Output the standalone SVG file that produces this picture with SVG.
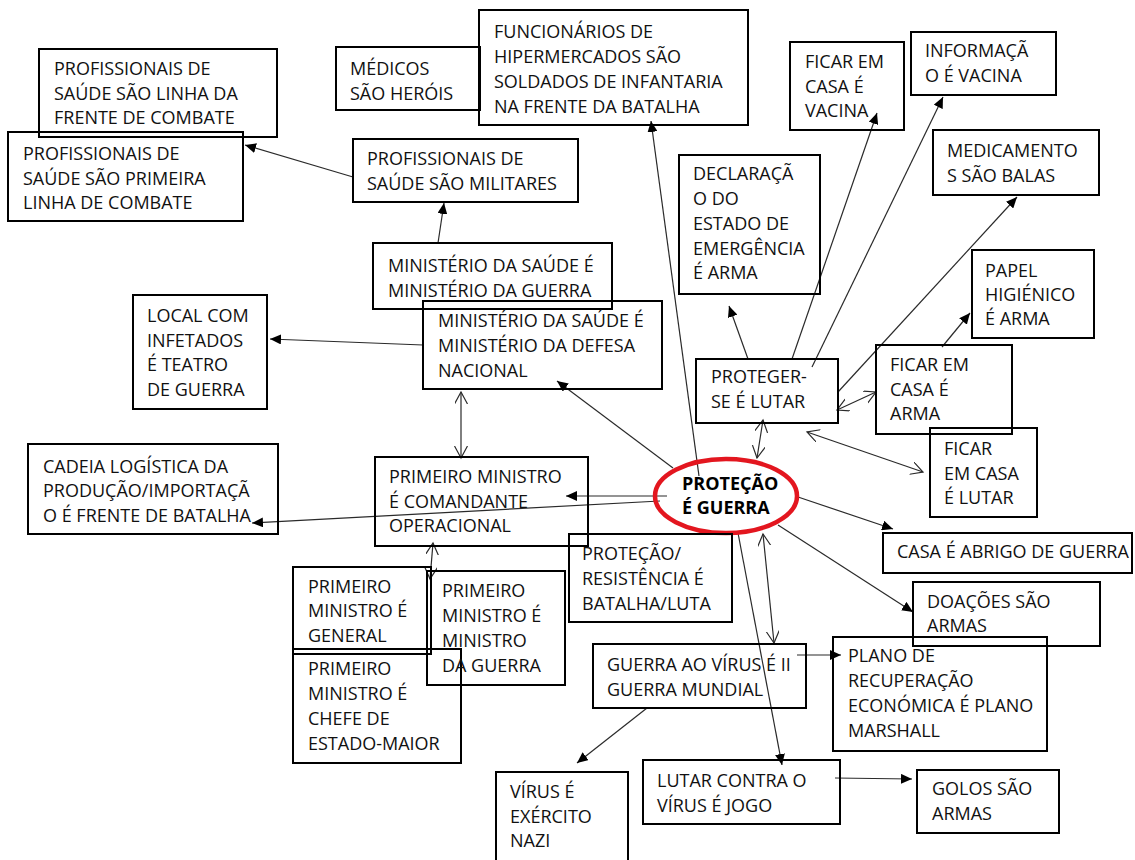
<svg xmlns="http://www.w3.org/2000/svg" width="1135" height="860" viewBox="0 0 1135 860">
  <style>
    .box { fill: none; stroke: #000; stroke-width: 2; }
    .t { font-family: "Open Sans", "Liberation Sans", sans-serif; font-size: 18px; fill: #111; }
    .tb { font-family: "Open Sans", "Liberation Sans", sans-serif; font-size: 18px; font-weight: bold; fill: #000; }
    .c { fill: none; stroke: #2a2a2a; stroke-width: 1.2; }
    .arr { marker-end: url(#head); }
    .both { marker-start: url(#open); marker-end: url(#open); }
  </style>
  <defs>
    <marker id="head" markerUnits="userSpaceOnUse" markerWidth="12" markerHeight="10" refX="11" refY="5" orient="auto">
      <path d="M0,0 L11,5 L0,10 z" fill="#000"/>
    </marker>
    <marker id="open" markerUnits="userSpaceOnUse" markerWidth="14" markerHeight="14" refX="12" refY="6.5" orient="auto-start-reverse">
      <path d="M0,0 L12,6.5 L0,13" fill="none" stroke="#2a2a2a" stroke-width="1.2"/>
    </marker>
  </defs>

  <rect width="1135" height="860" fill="#fff"/>

  <!-- connectors -->
  <g id="connectors">
    <line class="c arr" x1="353" y1="177" x2="245" y2="145"/>
    <line class="c arr" x1="438" y1="243" x2="444" y2="203"/>
    <line class="c arr" x1="423" y1="345" x2="270" y2="339"/>
    <line class="c arr" x1="673" y1="468" x2="557" y2="381"/>
    <line class="c arr" x1="667" y1="496" x2="566" y2="496"/>
    <line class="c arr" x1="660" y1="501" x2="252" y2="523"/>
    <line class="c arr" x1="699" y1="476" x2="651" y2="121"/>
    <line class="c arr" x1="748" y1="359" x2="729" y2="306"/>
    <line class="c arr" x1="792" y1="359" x2="877" y2="113"/>
    <line class="c arr" x1="812" y1="367" x2="943" y2="97"/>
    <line class="c arr" x1="838" y1="392" x2="1017" y2="197"/>
    <line class="c arr" x1="942" y1="347" x2="970" y2="313"/>
    <line class="c arr" x1="798" y1="497" x2="893" y2="529"/>
    <line class="c arr" x1="778" y1="525" x2="913" y2="612"/>
    <line class="c arr" x1="738" y1="533" x2="782" y2="765"/>
    <line class="c arr" x1="797" y1="655" x2="841" y2="655"/>
    <line class="c arr" x1="647" y1="708" x2="577" y2="763"/>
    <line class="c arr" x1="835" y1="778" x2="912" y2="779"/>
    <line class="c both" x1="461" y1="392" x2="461" y2="458"/>
    <line class="c both" x1="433" y1="543" x2="430" y2="579"/>
    <line class="c both" x1="837" y1="410" x2="876" y2="392"/>
    <line class="c both" x1="763" y1="420" x2="757" y2="458"/>
    <line class="c both" x1="807" y1="432" x2="923" y2="472"/>
    <line class="c both" x1="763" y1="534" x2="774" y2="643"/>
  </g>

  <!-- nodes -->
  <g id="linha-frente">
    <rect class="box" x="39" y="49" width="238" height="88"/>
    <text class="t"><tspan x="54" y="75">PROFISSIONAIS DE</tspan><tspan x="54" y="100">SAÚDE SÃO LINHA DA</tspan><tspan x="54" y="124">FRENTE DE COMBATE</tspan></text>
  </g>
  <g id="primeira-linha">
    <rect class="box" x="8" y="132" width="235" height="89"/>
    <text class="t"><tspan x="23" y="160">PROFISSIONAIS DE</tspan><tspan x="23" y="185">SAÚDE SÃO PRIMEIRA</tspan><tspan x="23" y="209">LINHA DE COMBATE</tspan></text>
  </g>
  <g id="medicos">
    <rect class="box" x="336" y="47" width="144" height="63"/>
    <text class="t"><tspan x="350" y="75">MÉDICOS</tspan><tspan x="350" y="100">SÃO HERÓIS</tspan></text>
  </g>
  <g id="funcionarios">
    <rect class="box" x="479" y="10" width="269" height="115"/>
    <text class="t"><tspan x="494" y="38">FUNCIONÁRIOS DE</tspan><tspan x="494" y="63">HIPERMERCADOS SÃO</tspan><tspan x="494" y="88">SOLDADOS DE INFANTARIA</tspan><tspan x="494" y="113">NA FRENTE DA BATALHA</tspan></text>
  </g>
  <g id="militares">
    <rect class="box" x="353" y="139" width="225" height="63"/>
    <text class="t"><tspan x="367" y="165">PROFISSIONAIS DE</tspan><tspan x="367" y="190">SAÚDE SÃO MILITARES</tspan></text>
  </g>
  <g id="min-guerra">
    <rect class="box" x="373" y="243" width="239" height="66"/>
    <text class="t"><tspan x="388" y="272">MINISTÉRIO DA SAÚDE É</tspan><tspan x="388" y="297">MINISTÉRIO DA GUERRA</tspan></text>
  </g>
  <g id="min-defesa">
    <rect class="box" x="423" y="301" width="239" height="88"/>
    <text class="t"><tspan x="438" y="327">MINISTÉRIO DA SAÚDE É</tspan><tspan x="438" y="352">MINISTÉRIO DA DEFESA</tspan><tspan x="438" y="377">NACIONAL</tspan></text>
  </g>
  <g id="teatro">
    <rect class="box" x="133" y="295" width="134" height="114"/>
    <text class="t"><tspan x="147" y="322">LOCAL COM</tspan><tspan x="147" y="347">INFETADOS</tspan><tspan x="147" y="371">É TEATRO</tspan><tspan x="147" y="396">DE GUERRA</tspan></text>
  </g>
  <g id="cadeia">
    <rect class="box" x="28" y="444" width="250" height="90"/>
    <text class="t"><tspan x="43" y="473">CADEIA LOGÍSTICA DA</tspan><tspan x="43" y="497">PRODUÇÃO/IMPORTAÇÃ</tspan><tspan x="43" y="522">O É FRENTE DE BATALHA</tspan></text>
  </g>
  <g id="comandante">
    <rect class="box" x="375" y="457" width="213" height="89"/>
    <text class="t"><tspan x="389" y="483">PRIMEIRO MINISTRO</tspan><tspan x="389" y="508">É COMANDANTE</tspan><tspan x="389" y="532">OPERACIONAL</tspan></text>
  </g>
  <g id="protecao-guerra">
    <ellipse cx="726" cy="496" rx="71" ry="37" fill="none" stroke="#e3161f" stroke-width="4.5"/>
    <text class="tb"><tspan x="682" y="490">PROTEÇÃO</tspan><tspan x="682" y="514">É GUERRA</tspan></text>
  </g>
  <g id="resistencia">
    <rect class="box" x="569" y="534" width="163" height="88"/>
    <text class="t"><tspan x="582" y="560">PROTEÇÃO/</tspan><tspan x="582" y="585">RESISTÊNCIA É</tspan><tspan x="582" y="610">BATALHA/LUTA</tspan></text>
  </g>
  <g id="general">
    <rect class="box" x="293" y="567" width="138" height="87"/>
    <text class="t"><tspan x="308" y="593">PRIMEIRO</tspan><tspan x="308" y="617">MINISTRO É</tspan><tspan x="308" y="642">GENERAL</tspan></text>
  </g>
  <g id="chefe">
    <rect class="box" x="293" y="649" width="168" height="114"/>
    <text class="t"><tspan x="308" y="675">PRIMEIRO</tspan><tspan x="308" y="700">MINISTRO É</tspan><tspan x="308" y="725">CHEFE DE</tspan><tspan x="308" y="750">ESTADO-MAIOR</tspan></text>
  </g>
  <g id="ministro-guerra">
    <rect class="box" x="427" y="571" width="138" height="114"/>
    <text class="t"><tspan x="442" y="597">PRIMEIRO</tspan><tspan x="442" y="622">MINISTRO É</tspan><tspan x="442" y="647">MINISTRO</tspan><tspan x="442" y="672">DA GUERRA</tspan></text>
  </g>
  <g id="ii-guerra">
    <rect class="box" x="593" y="644" width="213" height="64"/>
    <text class="t"><tspan x="607" y="671">GUERRA AO VÍRUS É II</tspan><tspan x="607" y="696">GUERRA MUNDIAL</tspan></text>
  </g>
  <g id="nazi">
    <rect class="box" x="496" y="772" width="132" height="100"/>
    <text class="t"><tspan x="510" y="798">VÍRUS É</tspan><tspan x="510" y="823">EXÉRCITO</tspan><tspan x="510" y="847">NAZI</tspan></text>
  </g>
  <g id="jogo">
    <rect class="box" x="643" y="760" width="197" height="64"/>
    <text class="t"><tspan x="657" y="787">LUTAR CONTRA O</tspan><tspan x="657" y="812">VÍRUS É JOGO</tspan></text>
  </g>
  <g id="golos">
    <rect class="box" x="917" y="770" width="142" height="63"/>
    <text class="t"><tspan x="932" y="795">GOLOS SÃO</tspan><tspan x="932" y="820">ARMAS</tspan></text>
  </g>
  <g id="marshall">
    <rect class="box" x="833" y="637" width="214" height="114"/>
    <text class="t"><tspan x="848" y="662">PLANO DE</tspan><tspan x="848" y="687">RECUPERAÇÃO</tspan><tspan x="848" y="712">ECONÓMICA É PLANO</tspan><tspan x="848" y="737">MARSHALL</tspan></text>
  </g>
  <g id="doacoes">
    <rect class="box" x="913" y="582" width="187" height="64"/>
    <text class="t"><tspan x="927" y="608">DOAÇÕES SÃO</tspan><tspan x="927" y="632">ARMAS</tspan></text>
  </g>
  <g id="abrigo">
    <rect class="box" x="883" y="533" width="249" height="40"/>
    <text class="t" x="897" y="558">CASA É ABRIGO DE GUERRA</text>
  </g>
  <g id="ficar-lutar">
    <rect class="box" x="930" y="428" width="107" height="89"/>
    <text class="t"><tspan x="944" y="455">FICAR</tspan><tspan x="944" y="480">EM CASA</tspan><tspan x="944" y="504">É LUTAR</tspan></text>
  </g>
  <g id="ficar-arma">
    <rect class="box" x="876" y="345" width="136" height="89"/>
    <text class="t"><tspan x="890" y="371">FICAR EM</tspan><tspan x="890" y="396">CASA É</tspan><tspan x="890" y="420">ARMA</tspan></text>
  </g>
  <g id="papel">
    <rect class="box" x="972" y="250" width="122" height="88"/>
    <text class="t"><tspan x="985" y="277">PAPEL</tspan><tspan x="985" y="301">HIGIÉNICO</tspan><tspan x="985" y="325">É ARMA</tspan></text>
  </g>
  <g id="proteger">
    <rect class="box" x="696" y="359" width="142" height="64"/>
    <text class="t"><tspan x="711" y="383">PROTEGER-</tspan><tspan x="711" y="408">SE É LUTAR</tspan></text>
  </g>
  <g id="emergencia">
    <rect class="box" x="679" y="155" width="141" height="139"/>
    <text class="t"><tspan x="693" y="180">DECLARAÇÃ</tspan><tspan x="693" y="205">O DO</tspan><tspan x="693" y="230">ESTADO DE</tspan><tspan x="693" y="255">EMERGÊNCIA</tspan><tspan x="693" y="279">É ARMA</tspan></text>
  </g>
  <g id="ficar-vacina">
    <rect class="box" x="790" y="42" width="114" height="88"/>
    <text class="t"><tspan x="805" y="68">FICAR EM</tspan><tspan x="805" y="93">CASA É</tspan><tspan x="805" y="117">VACINA</tspan></text>
  </g>
  <g id="informacao">
    <rect class="box" x="911" y="32" width="145" height="63"/>
    <text class="t"><tspan x="925" y="57">INFORMAÇÃ</tspan><tspan x="925" y="82">O É VACINA</tspan></text>
  </g>
  <g id="medicamentos">
    <rect class="box" x="933" y="130" width="166" height="65"/>
    <text class="t"><tspan x="947" y="157">MEDICAMENTO</tspan><tspan x="947" y="182">S SÃO BALAS</tspan></text>
  </g>
</svg>
